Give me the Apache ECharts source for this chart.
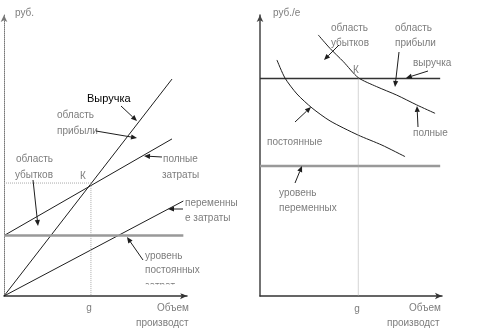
<!DOCTYPE html>
<html>
<head>
<meta charset="utf-8">
<script src="https://cdn.jsdelivr.net/npm/echarts@6/dist/echarts.min.js"></script>
<style>
  html, body { margin: 0; padding: 0; background: #fff; }
  #chart { width: 477px; height: 333px; }
</style>
</head>
<body>
<div id="chart"></div>
<script>
// ---- Left panel: totals (руб.) against output volume ----
const revenueX = [0, 9.18];
const revenueY = [0, 77.2];
const totalCostX = [0, 9.18];
const totalCostY = [21.5, 55.9];
const variableCostX = [0, 9.8];
const variableCostY = [0, 33.8];
const fixedCostX = [0, 9.8];
const fixedCostLevel = 21.5;
const breakEvenLeft = [4.75, 40.2];

// ---- Right panel: amounts per unit of output (руб./е) ----
const unitPriceX = [0, 9.9];
const unitPriceLevel = 77.4;
const unitVariableX = [0, 9.9];
const unitVariableLevel = 46.3;
const unitTotalX = [3.20, 3.85, 4.58, 5.40, 6.41, 7.51, 8.61, 9.62];
const unitTotalY = [92.9, 88.1, 83.4, 77.7, 74.5, 71.5, 68.0, 65.0];
const unitFixedX = [0.93, 1.37, 2.03, 2.86, 3.85, 5.38, 6.70, 7.97];
const unitFixedY = [84.0, 77.6, 71.9, 66.9, 62.3, 57.3, 53.7, 49.6];
const breakEvenRight = [5.4, 77.4];

const zip = (xs, ys) => xs.map((x, i) => [x, ys[i]]);

const FONT = '10px "Liberation Sans", Arial, sans-serif';
const GREY_TEXT = '#7d7d7d';
const INK = '#1e1e1e';

function axisPair(dottedY) {
  const base = {
    type: 'value', min: 0,
    axisLabel: { show: false }, axisTick: { show: false }, splitLine: { show: false }
  };
  return {
    x: Object.assign({}, base, {
      max: 10,
      axisLine: { show: true, symbol: ['none', 'arrow'], symbolSize: [5, 7],
        lineStyle: { color: '#333', width: 1.5 } }
    }),
    y: Object.assign({}, base, {
      max: 100,
      axisLine: { show: true, symbol: ['none', 'arrow'], symbolSize: [5, 7],
        lineStyle: dottedY ? { color: '#777', width: 1, type: 'dotted' }
                           : { color: '#444', width: 1.5 } }
    })
  };
}
const axL = axisPair(true);
const axR = axisPair(false);
axR.x.gridIndex = 1; axR.y.gridIndex = 1;

function line(name, data, grid, style, smooth) {
  return {
    name, type: 'line', xAxisIndex: grid, yAxisIndex: grid, data,
    symbol: 'none', smooth: smooth || false,
    silent: true, animation: false, lineStyle: style
  };
}
const thin = { color: INK, width: 1 };
const thick = { color: '#999', width: 2.5 };
const guide = { color: '#aaa', width: 1, type: 'dotted' };

// annotation texts
const labels = [
  ['руб.', 15, 13], ['Выручка', 87, 99, true],
  ['область', 57, 115], ['прибыли', 57, 131],
  ['область', 16, 159], ['убытков', 15, 175],
  ['полные', 163, 159], ['затраты', 162, 175],
  ['переменны', 185, 203], ['е затраты', 185, 218],
  ['уровень', 145, 256], ['постоянных', 145, 270], ['затрат', 145, 286],
  ['Объем', 157, 308], ['производст', 136, 323],
  ['руб./е', 273, 13],
  ['область', 331, 28], ['убытков', 331, 43],
  ['область', 395, 28], ['прибыли', 395, 43],
  ['выручка', 413, 63], ['полные', 413, 133],
  ['постоянные', 267, 142],
  ['уровень', 279, 193], ['переменных', 279, 208],
  ['Объем', 409, 308], ['производст', 387, 323]
];
const centred = [['К', 83, 176], ['g', 89, 308], ['К', 356, 70], ['g', 357, 309]];

// pointer arrows: from -> to (head at "to")
const pointers = [
  [121, 106, 137, 121], [96, 131, 137, 138], [33, 180, 38, 226],
  [162, 157, 144, 156], [183, 209, 168, 209], [143, 260, 127, 237],
  [339, 45, 324, 60], [399, 52, 395, 87], [428, 71, 406, 78],
  [418, 127, 417, 106], [295, 122, 311, 107], [295, 183, 302, 166]
];

function arrowGraphic(p) {
  const [x1, y1, x2, y2] = p;
  const dx = x2 - x1, dy = y2 - y1, len = Math.hypot(dx, dy);
  const ux = dx / len, uy = dy / len, hl = 6, hw = 2.6;
  const bx = x2 - ux * hl, by = y2 - uy * hl;
  return [
    { type: 'line', z: 20, silent: true,
      shape: { x1, y1, x2: bx, y2: by }, style: { stroke: INK, lineWidth: 1 } },
    { type: 'polygon', z: 20, silent: true,
      shape: { points: [[x2, y2], [bx - uy * hw, by + ux * hw], [bx + uy * hw, by - ux * hw]] },
      style: { fill: INK } }
  ];
}

const graphics = [];
labels.forEach(([t, x, y, strong]) => graphics.push({
  type: 'text', z: 20, silent: true,
  style: { text: t, x, y, textAlign: 'left', textVerticalAlign: 'middle',
    font: strong ? '11px "Liberation Sans", Arial, sans-serif' : FONT,
    fill: strong ? '#000' : GREY_TEXT }
}));
centred.forEach(([t, x, y]) => graphics.push({
  type: 'text', z: 20, silent: true,
  style: { text: t, x, y, textAlign: 'center', textVerticalAlign: 'middle', font: FONT, fill: GREY_TEXT }
}));
// the last line of the fixed-cost caption is cut off at the bottom
graphics.push({ type: 'rect', z: 21, silent: true,
  shape: { x: 140, y: 284.5, width: 70, height: 9 }, style: { fill: '#fff' } });
pointers.forEach(p => graphics.push(...arrowGraphic(p)));

const chart = echarts.init(document.getElementById('chart'), null, { renderer: 'canvas' });
chart.setOption({
  backgroundColor: '#fff',
  animation: false,
  grid: [
    { left: 4, top: 15, width: 183, height: 281 },
    { left: 260, top: 15, width: 182, height: 281 }
  ],
  xAxis: [axL.x, axR.x],
  yAxis: [axL.y, axR.y],
  series: [
    line('Выручка', zip(revenueX, revenueY), 0, thin),
    line('полные затраты', zip(totalCostX, totalCostY), 0, thin),
    line('переменные затраты', zip(variableCostX, variableCostY), 0, thin),
    line('постоянные затраты', fixedCostX.map(x => [x, fixedCostLevel]), 0, thick),
    line('K', [[0, breakEvenLeft[1]], breakEvenLeft, [breakEvenLeft[0], 0]], 0, guide),

    line('выручка', unitPriceX.map(x => [x, unitPriceLevel]), 1, { color: '#333', width: 1.5 }),
    line('уровень переменных', unitVariableX.map(x => [x, unitVariableLevel]), 1, thick),
    line('полные', zip(unitTotalX, unitTotalY), 1, thin, 0.25),
    line('постоянные', zip(unitFixedX, unitFixedY), 1, thin, 0.25),
    line('K', [breakEvenRight, [breakEvenRight[0], 0]], 1, guide)
  ],
  graphic: graphics
});
</script>
</body>
</html>
